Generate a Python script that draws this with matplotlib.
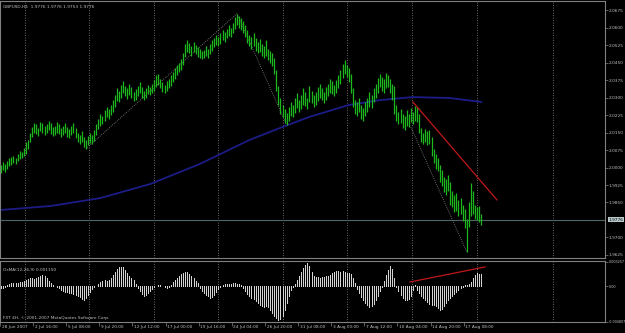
import matplotlib
matplotlib.use("Agg")
import matplotlib.pyplot as plt
import matplotlib.transforms as mtrans
import numpy as np

# ---------------- data ----------------
high = [
    2.0010, 2.0025, 2.0015, 2.0030, 2.0040,
    2.0045, 2.0050, 2.0040, 2.0060, 2.0070, 2.0065, 2.0085, 2.0110, 2.0120,
    2.0150, 2.0175, 2.0190, 2.0185, 2.0170, 2.0195, 2.0190, 2.0180, 2.0185, 2.0200,
    2.0190, 2.0175, 2.0180, 2.0195, 2.0185, 2.0170, 2.0180, 2.0190, 2.0175, 2.0165,
    2.0180, 2.0190, 2.0170, 2.0150, 2.0140, 2.0155, 2.0130, 2.0120, 2.0135, 2.0150, 2.0140, 2.0160,
    2.0185, 2.0210, 2.0230, 2.0220, 2.0245, 2.0260, 2.0250,
    2.0270, 2.0290, 2.0310, 2.0340, 2.0330, 2.0355, 2.0370, 2.0350,
    2.0340, 2.0360, 2.0345, 2.0325, 2.0335, 2.0350, 2.0365, 2.0345, 2.0330, 2.0340, 2.0355, 2.0345,
    2.0360, 2.0375, 2.0395, 2.0400, 2.0380, 2.0365, 2.0355, 2.0370, 2.0380, 2.0395,
    2.0410, 2.0425, 2.0440, 2.0450, 2.0465, 2.0490,
    2.0530, 2.0545, 2.0535, 2.0520, 2.0540, 2.0525, 2.0515, 2.0510, 2.0500, 2.0505, 2.0520, 2.0510, 2.0530,
    2.0545, 2.0555, 2.0570, 2.0560, 2.0575, 2.0590, 2.0580, 2.0595, 2.0610, 2.0600, 2.0620,
    2.0645, 2.0660, 2.0650, 2.0640,
    2.0630, 2.0610, 2.0590, 2.0570, 2.0560, 2.0575, 2.0555, 2.0540, 2.0550, 2.0530, 2.0520, 2.0545, 2.0510, 2.0500, 2.0490,
    2.0470, 2.0420, 2.0350, 2.0300, 2.0270,
    2.0250, 2.0235, 2.0260, 2.0280,
    2.0270, 2.0300, 2.0320, 2.0290, 2.0310, 2.0340, 2.0325, 2.0300, 2.0350, 2.0330, 2.0310, 2.0325,
    2.0345, 2.0360, 2.0340, 2.0325, 2.0345, 2.0360, 2.0380, 2.0370, 2.0355, 2.0375, 2.0395,
    2.0420, 2.0445, 2.0460, 2.0440, 2.0425,
    2.0400, 2.0340, 2.0290, 2.0280, 2.0300, 2.0270, 2.0255, 2.0280,
    2.0300, 2.0325, 2.0310, 2.0340, 2.0360,
    2.0385, 2.0400, 2.0390, 2.0380, 2.0405, 2.0395, 2.0380, 2.0360,
    2.0350, 2.0270, 2.0240, 2.0250, 2.0230, 2.0220, 2.0245, 2.0230, 2.0255, 2.0240, 2.0265, 2.0260,
    2.0230, 2.0170, 2.0150, 2.0165, 2.0155, 2.0160,
    2.0130, 2.0080, 2.0060, 2.0040, 2.0010, 1.9990, 1.9960,
    1.9950, 1.9970, 1.9940, 1.9900, 1.9880, 1.9890, 1.9860, 1.9870, 1.9840, 1.9820, 1.9780,
    1.9850, 1.9935, 1.9900, 1.9840, 1.9830, 1.9835, 1.9800,
]
low = [
    1.9975, 1.9990, 1.9980, 1.9995, 2.0005,
    2.0010, 2.0020, 2.0015, 2.0030, 2.0035, 2.0040, 2.0050, 2.0060, 2.0080,
    2.0110, 2.0130, 2.0150, 2.0145, 2.0135, 2.0155, 2.0150, 2.0140, 2.0150, 2.0160,
    2.0145, 2.0135, 2.0140, 2.0150, 2.0145, 2.0130, 2.0140, 2.0150, 2.0130, 2.0125,
    2.0140, 2.0150, 2.0125, 2.0110, 2.0100, 2.0110, 2.0090, 2.0080, 2.0095, 2.0105, 2.0100, 2.0115,
    2.0140, 2.0165, 2.0180, 2.0185, 2.0200, 2.0215, 2.0210,
    2.0225, 2.0240, 2.0260, 2.0285, 2.0280, 2.0300, 2.0320, 2.0305,
    2.0295, 2.0310, 2.0300, 2.0285, 2.0290, 2.0305, 2.0320, 2.0300, 2.0290, 2.0300, 2.0315, 2.0310,
    2.0320, 2.0330, 2.0345, 2.0355, 2.0340, 2.0325, 2.0320, 2.0330, 2.0340, 2.0350,
    2.0365, 2.0380, 2.0395, 2.0410, 2.0420, 2.0440,
    2.0475, 2.0495, 2.0490, 2.0480, 2.0495, 2.0485, 2.0475, 2.0470, 2.0465, 2.0470, 2.0480, 2.0470, 2.0485,
    2.0500, 2.0515, 2.0525, 2.0520, 2.0530, 2.0545, 2.0540, 2.0555, 2.0565, 2.0560, 2.0575,
    2.0595, 2.0610, 2.0600, 2.0590,
    2.0575, 2.0560, 2.0535, 2.0520, 2.0510, 2.0520, 2.0500, 2.0490, 2.0495, 2.0480, 2.0470, 2.0480, 2.0460, 2.0450, 2.0435,
    2.0400, 2.0330, 2.0270, 2.0230, 2.0215,
    2.0190, 2.0182, 2.0200, 2.0220,
    2.0215, 2.0235, 2.0255, 2.0240, 2.0250, 2.0270, 2.0265, 2.0250, 2.0280, 2.0275, 2.0260, 2.0270,
    2.0285, 2.0300, 2.0290, 2.0275, 2.0290, 2.0305, 2.0320, 2.0315, 2.0305, 2.0320, 2.0340,
    2.0360, 2.0385, 2.0400, 2.0390, 2.0365,
    2.0320, 2.0260, 2.0230, 2.0220, 2.0240, 2.0210, 2.0200, 2.0220,
    2.0240, 2.0260, 2.0255, 2.0280, 2.0300,
    2.0320, 2.0345, 2.0330, 2.0320, 2.0340, 2.0345, 2.0320, 2.0290,
    2.0230, 2.0200, 2.0185, 2.0190, 2.0170, 2.0160, 2.0180, 2.0175, 2.0195, 2.0185, 2.0200, 2.0195,
    2.0150, 2.0110, 2.0100, 2.0110, 2.0095, 2.0100,
    2.0050, 2.0020, 1.9995, 1.9985, 1.9940, 1.9920, 1.9895,
    1.9880, 1.9900, 1.9840, 1.9830, 1.9810, 1.9815, 1.9790, 1.9800, 1.9770, 1.9740, 1.9638,
    1.9745, 1.9790, 1.9800, 1.9780, 1.9775, 1.9765, 1.9753,
]
osma = [
    -0.00027, -0.00027, -0.00013,
    0.00013, 0.00027, 0.00040, 0.00040, 0.00040, 0.00040,
    0.00054, 0.00054,
    0.00067, 0.00080, 0.00094, 0.00107, 0.00107,
    0.00094,
    0.00107, 0.00121, 0.00134,
    0.00147,
    0.00134, 0.00107,
    0.00067, 0.00040,
    0.00013, 0.0, -0.00013, -0.00027,
    -0.00054, -0.00067, -0.00080, -0.00080, -0.00094, -0.00094,
    -0.00107, -0.00121, -0.00134, -0.00147, -0.00174, -0.00188,
    -0.00161, -0.00121, -0.00080, -0.00040,
    -0.00013, 0.0, 0.00027,
    0.00054, 0.00067, 0.00080, 0.00067, 0.00080,
    0.00107, 0.00147, 0.00188, 0.00228, 0.00255, 0.00261,
    0.00255,
    0.00214, 0.00174, 0.00134, 0.00107, 0.00080,
    0.00027, -0.00027,
    -0.00067, -0.00107, -0.00134, -0.00121, -0.00094,
    -0.00067, -0.00040, -0.00013, 0.0, 0.00013,
    0.00013, 0.0, -0.00013, -0.00027, -0.00013, 0.00013,
    0.00054, 0.00080, 0.00107, 0.00134,
    0.00161, 0.00174, 0.00194, 0.00188,
    0.00161, 0.00134, 0.00107, 0.00067, 0.00040,
    -0.00027, -0.00067, -0.00094, -0.00121, -0.00134,
    -0.00161, -0.00147, -0.00121, -0.00080, -0.00040, -0.00013,
    0.00013, 0.00027, 0.00027, 0.00027, 0.00027, 0.00040, 0.00040, 0.00027, 0.00027, 0.00013,
    -0.00027, -0.00067,
    -0.00107, -0.00134, -0.00161, -0.00174, -0.00201,
    -0.00228, -0.00255, -0.00268,
    -0.00281, -0.00268, -0.00281,
    -0.00322, -0.00362, -0.00402, -0.00429, -0.00456,
    -0.00442, -0.00402,
    -0.00322, -0.00228, -0.00134, -0.00054,
    -0.00013, 0.00027, 0.00080,
    0.00134, 0.00188, 0.00241, 0.00281, 0.00308,
    0.00268, 0.00188,
    0.00134, 0.00121, 0.00121,
    0.00107, 0.00121, 0.00121, 0.00134, 0.00134,
    0.00147, 0.00174, 0.00188, 0.00201,
    0.00201, 0.00188, 0.00201, 0.00188,
    0.00174, 0.00174, 0.00161,
    0.00107, 0.00040,
    -0.00040, -0.00094, -0.00147, -0.00188, -0.00228,
    -0.00255, -0.00281, -0.00268, -0.00241, -0.00188,
    -0.00134, -0.00067, -0.00013,
    0.00067, 0.00147, 0.00214, 0.00268,
    0.00228, 0.00107,
    -0.00013, -0.00067,
    -0.00121, -0.00161, -0.00188, -0.00188, -0.00174, -0.00134,
    -0.00054, 0.00013,
    -0.00054, -0.00094, -0.00134, -0.00161, -0.00188,
    -0.00214, -0.00241, -0.00255, -0.00255, -0.00268,
    -0.00295, -0.00322, -0.00308,
    -0.00268, -0.00228, -0.00188, -0.00161, -0.00134,
    -0.00107, -0.00080, -0.00054, -0.00027, -0.00013,
    0.00013, 0.00013, 0.00027,
    0.00054, 0.00107, 0.00147, 0.00174, 0.00161, 0.00161,
]
ma_bar = [0, 24, 48, 72, 96, 120, 136, 149, 168, 183, 199, 217, 232]
ma_val = [1.9818, 1.9835, 1.9869, 1.9929, 2.0015, 2.0118, 2.0174, 2.0217, 2.0268,
          2.0289, 2.0302, 2.0298, 2.0281]
zz1_bar = [41, 114, 138]
zz1_val = [2.0080, 2.0660, 2.0182]
zz2_bar = [198, 225]
zz2_val = [2.0174, 1.9638]
red_bar = [199, 239.6]
red_val = [2.0281, 1.9861]
red2_bar = [197.6, 233.8]
red2_val = [0.00054, 0.00255]
current_price = 1.9776
price_ticks = [2.0675, 2.0600, 2.0525, 2.0450, 2.0375, 2.0300, 2.0225, 2.0150,
               2.0075, 2.0000, 1.9925, 1.9850, 1.9700, 1.9625]
osma_ticks = [0.003257, 0.0, -0.004807]
osma_tick_labels = ["0.003257", "0.00", "-0.004807"]
date_labels = ["28 Jun 2007", "2 Jul 16:00", "5 Jul 08:00", "9 Jul 20:00", "12 Jul 12:00",
               "17 Jul 00:00", "19 Jul 16:00", "24 Jul 04:00", "26 Jul 20:00", "31 Jul 08:00",
               "3 Aug 00:00", "7 Aug 12:00", "10 Aug 04:00", "14 Aug 20:00", "17 Aug 08:00"]
bars_per_label = 16
grid_bars = [11.6, 42.5, 73.9, 104.8, 136.2, 167.1, 198.6, 230.0, 266.7]
title = "GBPUSD,H4  1.9776 1.9776 1.9753 1.9776"
osma_title = "OsMA(12,26,9) 0.001150"
copyright_txt = "FXT 4H, \u00a9 2001-2007 MetaQuotes Software Corp."

# ---------------- figure ----------------
W, H = 625, 333
FS = 3.1
fig = plt.figure(figsize=(W / 100, H / 100), dpi=100, facecolor="black")


def rect(x0, y0, x1, y1):
    return [x0 / W, 1 - y1 / H, (x1 - x0) / W, (y1 - y0) / H]


ax = fig.add_axes(rect(0, 1, 605, 258))
ax2 = fig.add_axes(rect(0, 261, 605, 322), sharex=ax)

txt_col = "#c0c0c0"
frame_col = "#808080"
for a in (ax, ax2):
    a.set_facecolor("black")
    for s in a.spines.values():
        s.set_color(frame_col)
        s.set_linewidth(0.8)
    for g in grid_bars:
        a.axvline(g, color="#8c8c8c", lw=0.6, ls=(0, (1, 2)), zorder=0)

n = min(len(high), len(low), len(osma))
idx = np.arange(n)

# price bars
ax.vlines(idx, low[:n], high[:n], color="#1db81d", lw=0.9, zorder=3)
# moving average
ax.plot(ma_bar, ma_val, color="#1c1c86", lw=1.3, zorder=2)
# zigzag dotted
ax.plot(zz1_bar, zz1_val, color="#8a8a8a", lw=0.6, ls=(0, (1, 1.5)), zorder=2)
ax.plot(zz2_bar, zz2_val, color="#8a8a8a", lw=0.6, ls=(0, (1, 1.5)), zorder=2)
# trend line
ax.plot(red_bar, red_val, color="#c01818", lw=0.9, zorder=4)
# current price line
ax.axhline(current_price, color="#4a6666", lw=0.8, zorder=1)

ax.set_xlim(-0.48, 291.8)
ax.set_ylim(1.9612, 2.0714)
ax.yaxis.tick_right()
ax.set_yticks(price_ticks)
ax.set_yticklabels([f"{v:.4f}" for v in price_ticks])
ax.tick_params(axis="y", colors=frame_col, labelcolor=txt_col, labelsize=FS,
               length=2, width=0.5, pad=0.8)
ax.tick_params(axis="x", bottom=False, labelbottom=False)

tr = mtrans.blended_transform_factory(ax.transAxes, ax.transData)
ax.text(1.006, current_price, f"{current_price:.4f}", transform=tr, fontsize=FS,
        color="black", va="center", ha="left",
        bbox=dict(facecolor="#b8c8c8", edgecolor="none", pad=0.5))

fig.text(3 / W, 1 - 7 / H, title, fontsize=FS, color=txt_col, va="center", ha="left")

# OsMA panel
ax2.vlines(idx, 0, osma[:n], color="#d4d4d4", lw=0.72, antialiased=False, zorder=3)
ax2.plot(red2_bar, red2_val, color="#c01818", lw=0.9, zorder=4)
ax2.set_ylim(-0.00482, 0.00335)
ax2.yaxis.tick_right()
ax2.set_yticks(osma_ticks)
ax2.set_yticklabels(osma_tick_labels)
ax2.tick_params(axis="y", colors=frame_col, labelcolor=txt_col, labelsize=2.4,
                length=2, width=0.5, pad=0.4)
ax2.text(0.005, 0.85, osma_title, transform=ax2.transAxes, fontsize=FS,
         color=txt_col, va="center", ha="left")
ax2.text(0.005, 0.07, copyright_txt, transform=ax2.transAxes, fontsize=FS,
         color=txt_col, va="center", ha="left")

tick_pos = [k * bars_per_label - 0.5 for k in range(len(date_labels))]
ax2.set_xticks(tick_pos)
ax2.set_xticklabels([])
ax2.tick_params(axis="x", colors=frame_col, length=3, width=0.5, direction="out")
trx = mtrans.blended_transform_factory(ax2.transData, ax2.transAxes)
for p, lab in zip(tick_pos, date_labels):
    ax2.text(p + 0.8, -0.05, lab, transform=trx, fontsize=FS, color=txt_col,
             ha="left", va="top")

fig.savefig("out.png", dpi=100, facecolor="black")
